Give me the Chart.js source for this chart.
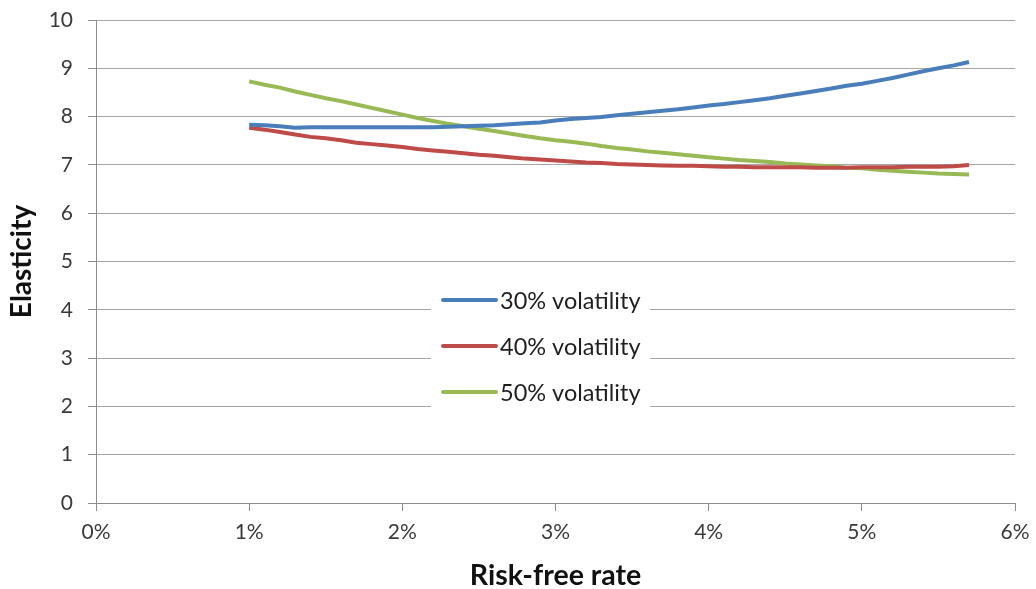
<!DOCTYPE html>
<html>
<head>
<meta charset="utf-8">
<title>Elasticity vs risk-free rate</title>
<script src="https://cdn.jsdelivr.net/npm/chart.js@4.4.1/dist/chart.umd.min.js"></script>
<style>
  html, body { margin: 0; padding: 0; background: #ffffff; }
  #wrap { width: 1036px; height: 589px; }
</style>
</head>
<body>
<div id="wrap"><canvas id="chart" width="1036" height="589"></canvas></div>
<script>
// Risk-free rate (%) at which each elasticity was computed
const rates = [1.0, 1.1, 1.2, 1.3, 1.4, 1.5, 1.6, 1.7, 1.8, 1.9,
               2.0, 2.1, 2.2, 2.3, 2.4, 2.5, 2.6, 2.7, 2.8, 2.9,
               3.0, 3.1, 3.2, 3.3, 3.4, 3.5, 3.6, 3.7, 3.8, 3.9,
               4.0, 4.1, 4.2, 4.3, 4.4, 4.5, 4.6, 4.7, 4.8, 4.9,
               5.0, 5.1, 5.2, 5.3, 5.4, 5.5, 5.6, 5.7];

// Elasticity, 30% volatility
const vol30 = [7.83, 7.82, 7.80, 7.77, 7.78, 7.78, 7.78, 7.78, 7.78, 7.78,
               7.78, 7.78, 7.78, 7.79, 7.80, 7.81, 7.82, 7.84, 7.86, 7.88,
               7.92, 7.95, 7.97, 7.99, 8.03, 8.06, 8.09, 8.12, 8.15, 8.19,
               8.23, 8.26, 8.30, 8.34, 8.38, 8.43, 8.48, 8.53, 8.58, 8.64,
               8.68, 8.74, 8.80, 8.87, 8.94, 9.00, 9.06, 9.13];

// Elasticity, 40% volatility
const vol40 = [7.77, 7.73, 7.68, 7.63, 7.58, 7.55, 7.51, 7.46, 7.43, 7.40,
               7.37, 7.33, 7.30, 7.27, 7.24, 7.21, 7.19, 7.16, 7.13, 7.11,
               7.09, 7.07, 7.05, 7.04, 7.02, 7.01, 7.00, 6.99, 6.98, 6.98,
               6.97, 6.96, 6.96, 6.95, 6.95, 6.95, 6.95, 6.94, 6.94, 6.94,
               6.95, 6.95, 6.95, 6.96, 6.96, 6.96, 6.97, 7.00];

// Elasticity, 50% volatility
const vol50 = [8.73, 8.66, 8.60, 8.52, 8.45, 8.38, 8.32, 8.25, 8.18, 8.11,
               8.04, 7.97, 7.91, 7.85, 7.80, 7.75, 7.70, 7.65, 7.60, 7.55,
               7.51, 7.48, 7.44, 7.39, 7.35, 7.32, 7.28, 7.25, 7.22, 7.19,
               7.16, 7.13, 7.10, 7.08, 7.06, 7.03, 7.01, 6.99, 6.97, 6.94,
               6.93, 6.90, 6.88, 6.86, 6.84, 6.82, 6.81, 6.80];

const seriesLabels = ['30% volatility', '40% volatility', '50% volatility'];
const seriesColors = ['#4A7EBB', '#BE4B48', '#98B954'];

const xTickLabels = ['0%', '1%', '2%', '3%', '4%', '5%', '6%'];
const yTickLabels = ['0', '1', '2', '3', '4', '5', '6', '7', '8', '9', '10'];

const FONT = "Lato, 'Open Sans', 'DejaVu Sans', sans-serif";
const GRID = '#A5A5A5';
const AXIS = '#8C8C8C';

function toPoints(ys) {
  return rates.map((r, i) => ({ x: r, y: ys[i] }));
}

const datasets = [vol30, vol40, vol50].map((ys, i) => ({
  label: seriesLabels[i],
  data: toPoints(ys),
  borderColor: seriesColors[i],
  backgroundColor: seriesColors[i],
  borderWidth: 4,
  pointRadius: 0,
  pointHoverRadius: 0,
  tension: 0,
  fill: false
}));

// Legend box placed inside the plot, drawn over the grid lines
const innerLegend = {
  id: 'innerLegend',
  afterDatasetsDraw(chart, args, opts) {
    const ctx = chart.ctx;
    const area = chart.chartArea;
    const x0 = area.left + opts.left;
    const y0 = area.top + opts.top;
    ctx.save();
    ctx.fillStyle = '#ffffff';
    ctx.fillRect(x0, y0, opts.width, opts.height);
    ctx.font = opts.font;
    ctx.textBaseline = 'middle';
    ctx.textAlign = 'left';
    chart.data.datasets.forEach((ds, i) => {
      const cy = y0 + opts.firstRow + i * opts.rowGap;
      ctx.strokeStyle = ds.borderColor;
      ctx.lineWidth = 4;
      ctx.lineCap = 'round';
      ctx.beginPath();
      ctx.moveTo(x0 + opts.lineStart, cy);
      ctx.lineTo(x0 + opts.lineStart + opts.lineLength, cy);
      ctx.stroke();
      ctx.fillStyle = '#1f1f1f';
      ctx.fillText(ds.label, x0 + opts.textStart, cy + 1);
    });
    ctx.restore();
  }
};

// Let the layout padding alone decide where the plot area sits
function clearLabelPadding(scale) {
  scale.paddingTop = 0;
  scale.paddingBottom = 0;
  scale.paddingLeft = 0;
  scale.paddingRight = 0;
}

new Chart(document.getElementById('chart'), {
  type: 'line',
  data: { datasets },
  plugins: [innerLegend],
  options: {
    responsive: false,
    devicePixelRatio: 1,
    animation: false,
    events: [],
    layout: { padding: { top: 20, right: 21, left: 0, bottom: 0 } },
    plugins: {
      legend: { display: false },
      tooltip: { enabled: false },
      innerLegend: {
        left: 335, top: 258, width: 219, height: 138,
        firstRow: 22, rowGap: 46,
        lineStart: 12, lineLength: 53, textStart: 69,
        font: "23.5px " + FONT
      }
    },
    scales: {
      x: {
        type: 'linear',
        min: 0, max: 6,
        afterFit(scale) { scale.height = 86; clearLabelPadding(scale); },
        afterBuildTicks(scale) {
          scale.ticks = xTickLabels.map((_, i) => ({ value: i }));
        },
        ticks: {
          autoSkip: false,
          maxRotation: 0,
          padding: 9,
          color: '#3a3a3a',
          font: { family: FONT, size: 21 },
          callback: (v, i) => xTickLabels[i]
        },
        grid: {
          drawOnChartArea: false,
          drawTicks: true,
          tickLength: 8,
          tickColor: AXIS,
          lineWidth: 1
        },
        border: { display: true, color: AXIS, width: 1 },
        title: {
          display: true,
          text: 'Risk-free rate',
          color: '#111111',
          font: { family: FONT, size: 28.5, weight: 'bold', lineHeight: 0.9 },
          padding: { top: 0, bottom: 0 }
        }
      },
      y: {
        type: 'linear',
        min: 0, max: 10,
        afterFit(scale) { scale.width = 96; clearLabelPadding(scale); },
        afterBuildTicks(scale) {
          scale.ticks = yTickLabels.map((_, i) => ({ value: i }));
        },
        ticks: {
          autoSkip: false,
          padding: 15,
          color: '#3a3a3a',
          font: { family: FONT, size: 21 },
          callback: (v, i) => yTickLabels[i]
        },
        grid: {
          color: GRID,
          lineWidth: 1,
          drawTicks: true,
          tickLength: 8,
          tickColor: AXIS
        },
        border: { display: true, color: AXIS, width: 1 },
        title: {
          display: true,
          text: 'Elasticity',
          color: '#111111',
          font: { family: FONT, size: 28, weight: 'bold', lineHeight: 0.9 },
          padding: { top: 9, bottom: 0 }
        }
      }
    }
  }
});
</script>
</body>
</html>
